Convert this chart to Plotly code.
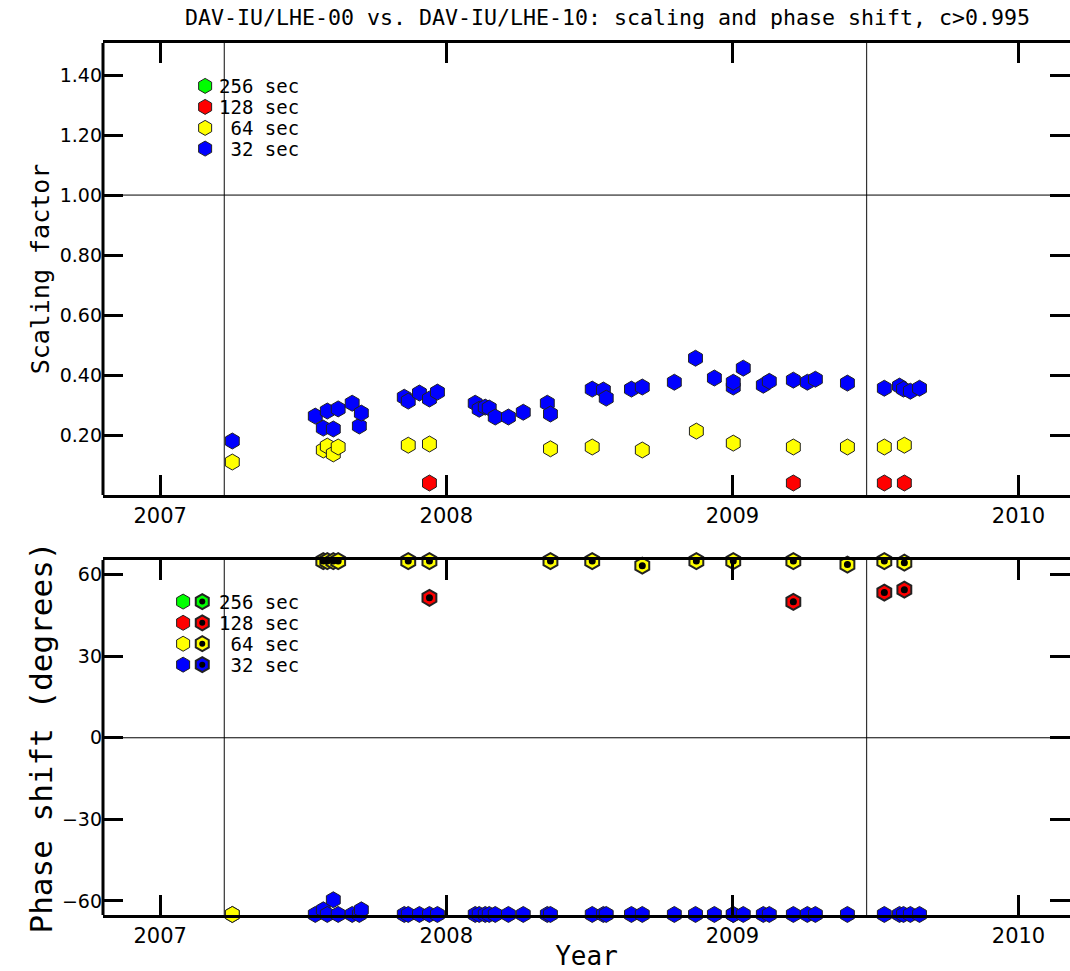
import plotly.graph_objects as go

# ---------------- data ----------------
blue_x = [2007.252, 2007.542, 2007.570, 2007.584, 2007.605, 2007.622, 2007.671, 2007.696, 2007.703,
          2007.853, 2007.867, 2007.906, 2007.941, 2007.969, 2008.101, 2008.115, 2008.136, 2008.150,
          2008.171, 2008.217, 2008.269, 2008.353, 2008.364, 2008.510, 2008.549, 2008.559, 2008.647,
          2008.685, 2008.797, 2008.871, 2008.937, 2009.003, 2009.003, 2009.038, 2009.108, 2009.129,
          2009.213, 2009.262, 2009.290, 2009.402, 2009.531, 2009.584, 2009.598, 2009.622, 2009.654]
blue_scale = [0.180, 0.263, 0.223, 0.280, 0.220, 0.287, 0.306, 0.230, 0.273,
              0.326, 0.313, 0.340, 0.320, 0.343, 0.306, 0.286, 0.293, 0.290,
              0.260, 0.260, 0.276, 0.306, 0.270, 0.353, 0.350, 0.323, 0.353,
              0.360, 0.376, 0.456, 0.390, 0.360, 0.376, 0.423, 0.366, 0.379,
              0.383, 0.376, 0.386, 0.373, 0.356, 0.363, 0.353, 0.346, 0.356]
blue_phase = [-65, -65, -63.3, -65, -59.6, -65, -65, -65, -63.3,
              -65, -65, -65, -65, -65, -65, -65, -65, -65,
              -65, -65, -65, -65, -65, -65, -65, -65, -65,
              -65, -65, -65, -65, -65, -65, -65, -65, -65,
              -65, -65, -65, -65, -65, -65, -65, -65, -65]

yellow_x = [2007.252, 2007.570, 2007.584, 2007.605, 2007.622, 2007.867, 2007.941, 2008.364,
            2008.510, 2008.685, 2008.874, 2009.003, 2009.213, 2009.402, 2009.531, 2009.601]
yellow_scale = [0.110, 0.150, 0.163, 0.137, 0.160, 0.166, 0.170, 0.154,
                0.160, 0.150, 0.213, 0.173, 0.160, 0.160, 0.160, 0.166]
yellow_phase = [-65, 65, 65, 65, 65, 65, 65, 65,
                65, 63.3, 65, 65, 65, 63.7, 65, 64.4]

red_x = [2007.941, 2009.213, 2009.531, 2009.601]
red_scale = [0.040, 0.040, 0.040, 0.040]
red_phase = [51.5, 50.0, 53.4, 54.5]

legend_labels = ["256 sec", "128 sec", " 64 sec", " 32 sec"]
legend_colors = ["#00ff00", "#ff0000", "#ffff00", "#0000ff"]
legend_top_y = [1.364, 1.294, 1.224, 1.155]
legend_bot_y = [50.1, 42.3, 34.6, 26.9]

year_ticks = [2007, 2008, 2009, 2010]
scale_ticks = [0.2, 0.4, 0.6, 0.8, 1.0, 1.2, 1.4]
phase_ticks = [-60, -30, 0, 30, 60]
marker_years = [2007.224, 2009.469]

title = "DAV-IU/LHE-00 vs. DAV-IU/LHE-10: scaling and phase shift, c>0.995"

# ---------------- figure ----------------
W, H = 1070, 971
FONT = "DejaVu Sans"
MONO = "DejaVu Sans Mono"
top_dom = [1 - 495 / H, 1 - 43 / H]
bot_dom = [1 - 915 / H, 1 - 560 / H]

fig = go.Figure()

def hexes(x, y, color, xa, ya, size=16, lw=1.0):
    fig.add_trace(go.Scatter(x=x, y=y, mode="markers", xaxis=xa, yaxis=ya, showlegend=False,
                             cliponaxis=False,
                             marker=dict(symbol="hexagon", size=size, color=color,
                                         line=dict(color="#222222", width=lw))))

def dots(x, y, xa, ya, size=7):
    fig.add_trace(go.Scatter(x=x, y=y, mode="markers", xaxis=xa, yaxis=ya, showlegend=False,
                             cliponaxis=False,
                             marker=dict(symbol="circle", size=size, color="black",
                                         line=dict(width=0))))

# top panel
hexes(yellow_x, yellow_scale, "#ffff00", "x", "y")
hexes(red_x, red_scale, "#ff0000", "x", "y")
hexes(blue_x, blue_scale, "#0000ff", "x", "y")

# bottom panel: plain for negative, dotted for positive
for xs, ys, col in [(blue_x, blue_phase, "#0000ff"), (red_x, red_phase, "#ff0000"),
                    (yellow_x, yellow_phase, "#ffff00")]:
    neg_x = [a for a, b in zip(xs, ys) if b < 0]
    neg_y = [b for b in ys if b < 0]
    pos_x = [a for a, b in zip(xs, ys) if b >= 0]
    pos_y = [b for b in ys if b >= 0]
    if neg_x:
        hexes(neg_x, neg_y, col, "x2", "y2")
    if pos_x:
        hexes(pos_x, pos_y, col, "x2", "y2", lw=2)
        dots(pos_x, pos_y, "x2", "y2")

# legends (drawn in data coordinates)
leg_x_top = 2007.157
leg_x_bot1 = 2007.08
leg_x_bot2 = 2007.147
for lab, col, yt, yb in zip(legend_labels, legend_colors, legend_top_y, legend_bot_y):
    txt = lab.replace(" ", "&nbsp;")
    hexes([leg_x_top], [yt], col, "x", "y", size=15)
    hexes([leg_x_bot1], [yb], col, "x2", "y2", size=15)
    hexes([leg_x_bot2], [yb], col, "x2", "y2", size=15, lw=2)
    dots([leg_x_bot2], [yb], "x2", "y2", size=6)
    for xr, yr, yv in [("x", "y", yt), ("x2", "y2", yb)]:
        fig.add_annotation(x=2007.198, y=yv, xref=xr, yref=yr, text=txt,
                           showarrow=False, xanchor="left", yanchor="middle",
                           font=dict(family=MONO, size=19, color="black"))

# reference lines
for xr, yr in [("x", "y"), ("x2", "y2")]:
    for yr_ in marker_years:
        fig.add_shape(type="line", xref=xr, yref=yr + " domain", x0=yr_, x1=yr_, y0=0, y1=1,
                      line=dict(color="#333333", width=1.2), layer="below")
    fig.add_shape(type="line", xref=xr + " domain", yref=yr + " domain", x0=0, x1=0, y0=0, y1=1,
                  line=dict(color="black", width=3))
fig.add_shape(type="line", xref="x domain", yref="y", x0=0, x1=1, y0=1.0, y1=1.0,
              line=dict(color="black", width=1), layer="below")
fig.add_shape(type="line", xref="x2 domain", yref="y2", x0=0, x1=1, y0=0, y1=0,
              line=dict(color="black", width=1), layer="below")

xrange = [2006.80, 2010.18]
xcommon = dict(range=xrange, tickvals=year_ticks, ticktext=[str(v) for v in year_ticks],
               ticks="inside", ticklen=20, tickwidth=3, tickcolor="black",
               showline=True, linewidth=3, linecolor="black", mirror="ticks",
               showgrid=False, zeroline=False,
               tickfont=dict(family=FONT, size=21, color="black"))
ycommon = dict(ticks="inside", ticklen=20, tickwidth=3, tickcolor="black",
               showline=False, mirror="ticks", showgrid=False, zeroline=False,
               tickfont=dict(family=FONT, size=19, color="black"))

fig.update_layout(
    width=W, height=H,
    margin=dict(l=103, r=0, t=0, b=0),
    paper_bgcolor="white", plot_bgcolor="white",
    font=dict(family=FONT, color="black"),
    xaxis=dict(domain=[0, 1], anchor="y", **xcommon),
    yaxis=dict(domain=top_dom, anchor="x", range=[0, 1.507], tickvals=scale_ticks,
               tickformat=".2f",
               title=dict(text="Scaling factor", font=dict(family=MONO, size=25), standoff=2),
               **ycommon),
    xaxis2=dict(domain=[0, 1], anchor="y2",
                title=dict(text="Year", font=dict(family=MONO, size=26), standoff=4), **xcommon),
    yaxis2=dict(domain=bot_dom, anchor="x2", range=[-65.2, 65.4], tickvals=phase_ticks,
                title=dict(text="Phase shift (degrees)", font=dict(family=MONO, size=31), standoff=0),
                **ycommon),
)

fig.add_annotation(x=(607 - 103) / (W - 103), y=1 - 18 / H, xref="paper", yref="paper",
                   text=title, showarrow=False, xanchor="center", yanchor="middle",
                   font=dict(family=MONO, size=21.6, color="black"))

fig.write_html("out.html")
